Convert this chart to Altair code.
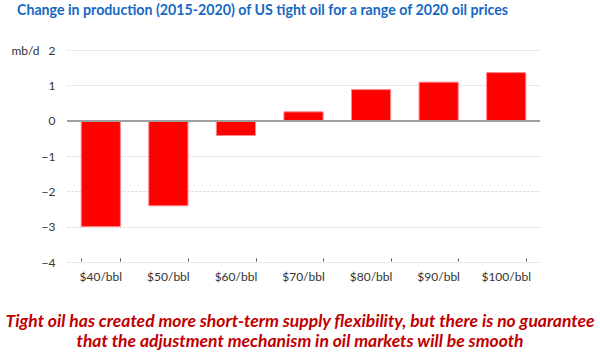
import altair as alt
import pandas as pd

categories = ["$40/bbl", "$50/bbl", "$60/bbl", "$70/bbl", "$80/bbl", "$90/bbl", "$100/bbl"]
values = [-3.0, -2.41, -0.42, 0.25, 0.88, 1.09, 1.36]
y_ticks = [-4, -3, -2, -1, 0, 1, 2]
title_text = "Change in production (2015-2020) of US tight oil for a range of 2020 oil prices"
note_lines = ["Tight oil has created more short-term supply flexibility, but there is no guarantee",
              "that the adjustment mechanism in oil markets will be smooth"]

df = pd.DataFrame({"cat": categories, "val": values})
xscale = alt.Scale(domain=categories, paddingInner=0.42, paddingOuter=0.21)
yscale = alt.Scale(domain=[-4, 2], nice=False)

bars = alt.Chart(df).mark_bar(color="#ff0000", stroke="#ff8a8a", strokeWidth=1).encode(
    x=alt.X("cat:N", scale=xscale, sort=categories,
            axis=alt.Axis(title=None, labelAngle=0, domain=False, ticks=False, labelPadding=9,
                          grid=False, labelFont="Lato", labelFontSize=12, labelColor="#333333")),
    y=alt.Y("val:Q", scale=yscale,
            axis=alt.Axis(values=y_ticks, labelOverlap=False, title="mb/d", titleAngle=0,
                          titleX=-42, titleY=0, titleBaseline="middle", titleAlign="center",
                          titleFont="Lato", titleFontSize=12, titleFontWeight="normal",
                          titleColor="#333333", domain=False, ticks=False, labelPadding=12,
                          labelFont="Lato", labelFontSize=12, labelColor="#333333", grid=True,
                          gridColor="#d4d4d4", gridDash=[2, 2])),
)

zero = alt.Chart(df).mark_rule(color="#a0a0a0", strokeWidth=1.5).encode(
    y=alt.Y("z:Q", scale=yscale, axis=None),
).transform_calculate(z="0")

ticks = alt.Chart(df).mark_point(opacity=0).encode(
    x=alt.X("cat:N", scale=xscale, sort=categories,
            axis=alt.Axis(title=None, labels=False, domain=False, ticks=True, tickBand="extent",
                          tickColor="#555555", tickSize=3, offset=-211, grid=False)),
    y=alt.Y("z:Q", scale=yscale, axis=None),
).transform_calculate(z="0")

note = alt.Chart(pd.DataFrame({"t": [note_lines]})).mark_text(
    font="Lato", fontSize=17.5, fontWeight="bold", fontStyle="italic", color="#c00000",
    align="center", baseline="top", lineHeight=20,
).encode(text="t", x=alt.value(233), y=alt.value(263))

chart = alt.layer(bars, zero, ticks, note).resolve_axis(x="independent", y="independent").properties(
    width=473, height=212,
    autosize=alt.AutoSizeParams(type="none"),
    padding={"left": 67, "top": 50, "right": 60, "bottom": 92},
    title=alt.Title(title_text, font="Lato", fontSize=14.2, fontWeight="bold", color="#1668c4",
                    anchor="middle", dx=-41, offset=26),
).configure(background="white").configure_view(stroke=None)

chart.save("out.html", embed_options={"renderer": "svg", "actions": False})
